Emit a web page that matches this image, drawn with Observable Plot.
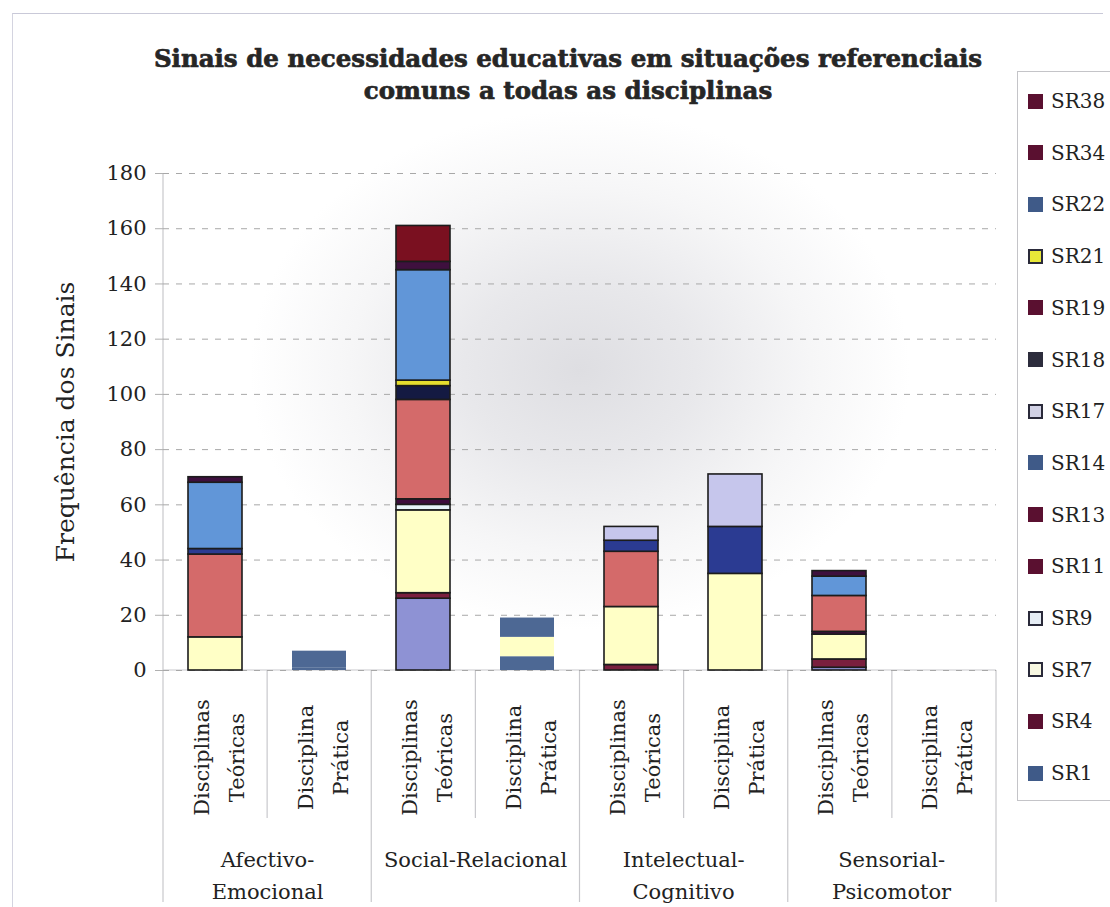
<!DOCTYPE html>
<html>
<head>
<meta charset="utf-8">
<script src="https://cdn.jsdelivr.net/npm/d3@7"></script>
<script src="https://cdn.jsdelivr.net/npm/@observablehq/plot@0.6"></script>
<style>
  html, body { margin: 0; padding: 0; background: #fff; }
  #wrap {
    position: relative; width: 1110px; height: 907px; overflow: hidden;
    background: radial-gradient(ellipse 330px 260px at 580px 370px, #dedee2 0%, #e8e8eb 35%, #f6f6f7 70%, #ffffff 100%);
  }
  #frame { position: absolute; left: 12px; top: 13px; width: 1090px; height: 900px;
    border-top: 1.5px solid #c9c9d8; border-left: 1.5px solid #d4d4e0; }
  #legend { position: absolute; left: 1017px; top: 71px; width: 110px; height: 728px;
    border: 1px solid #c4c4c8; background: rgba(255,255,255,0.9); font-family: "DejaVu Serif", serif; }
  .item { position: absolute; left: 10px; height: 24px; display: flex; align-items: center; }
  .sw { width: 15px; height: 15px; box-sizing: border-box; margin-right: 8px; }
  .lab { font-size: 20px; color: #222; }
  svg { position: absolute; left: 0; top: 0; }
</style>
</head>
<body>
<div id="wrap"><div id="frame"></div></div>
<script>
// ---- data ----
const grupos = ["Afectivo-Emocional", "Social-Relacional", "Intelectual-Cognitivo", "Sensorial-Psicomotor"];
const grupoRotulos = ["Afectivo-\nEmocional", "Social-Relacional", "Intelectual-\nCognitivo", "Sensorial-\nPsicomotor"];
const tipos = ["Teóricas", "Prática"];
const tipoRotulos = ["Disciplinas\nTeóricas", "Disciplina\nPrática"];
const series = ["SR1", "SR4", "SR7", "SR9", "SR11", "SR13", "SR14", "SR17", "SR18", "SR19", "SR21", "SR22", "SR34", "SR38"];
// bars: AE-Teó, AE-Prá, SR-Teó, SR-Prá, IC-Teó, IC-Prá, SP-Teó, SP-Prá
const SR1  = [0, 1, 26, 5, 0, 0, 1, 0];
const SR4  = [0, 0, 2, 0, 2, 0, 3, 0];
const SR7  = [12, 0, 30, 7, 21, 35, 9, 0];
const SR9  = [0, 0, 2, 0, 0, 0, 0, 0];
const SR11 = [0, 0, 2, 0, 0, 0, 1, 0];
const SR13 = [30, 0, 36, 0, 20, 0, 13, 0];
const SR14 = [2, 0, 0, 0, 4, 17, 0, 0];
const SR17 = [0, 0, 0, 0, 5, 19, 0, 0];
const SR18 = [0, 0, 5, 0, 0, 0, 0, 0];
const SR19 = [0, 0, 0, 0, 0, 0, 0, 0];
const SR21 = [0, 0, 2, 0, 0, 0, 0, 0];
const SR22 = [24, 6, 40, 7, 0, 0, 7, 0];
const SR34 = [2, 0, 3, 0, 0, 0, 2, 0];
const SR38 = [0, 0, 13, 0, 0, 0, 0, 0];
const yTicks = [0, 20, 40, 60, 80, 100, 120, 140, 160, 180];
const titulo = "Sinais de necessidades educativas em situações referenciais\ncomuns a todas as disciplinas";
const yTitulo = "Frequência dos Sinais";

const valores = {SR1, SR4, SR7, SR9, SR11, SR13, SR14, SR17, SR18, SR19, SR21, SR22, SR34, SR38};

// ---- styles ----
const corBarra = {
  SR1: "#8e92d4", SR4: "#7a1f3e", SR7: "#ffffc6", SR9: "#e6f2f8", SR11: "#3c0c3c",
  SR13: "#d46a6a", SR14: "#2b3b92", SR17: "#c6c6ec", SR18: "#141a42", SR19: "#5a1030",
  SR21: "#e6de2e", SR22: "#6196d8", SR34: "#3e103e", SR38: "#7a1020"
};
const ardosia = "#4d6894";
const corLegenda = {
  SR38: "#5a1030", SR34: "#5a1030", SR22: "#3f5a88", SR21: "#e8e838", SR19: "#5a1030",
  SR18: "#2c2c3c", SR17: "#d2d2e6", SR14: "#3f5a88", SR13: "#5a1030", SR11: "#5a1030",
  SR9: "#e6edf5", SR7: "#f8f8e2", SR4: "#5a1030", SR1: "#3f5a88"
};
const comBorda = new Set(["SR21", "SR17", "SR9", "SR7"]);

const cats = [];
grupos.forEach(g => tipos.forEach(t => cats.push(g + "|" + t)));

const rows = [];
series.forEach(s => {
  valores[s].forEach((v, j) => {
    if (v > 0) rows.push({serie: s, j, grupo: grupos[Math.floor(j / 2)], tipo: tipos[j % 2], cat: cats[j], valor: v});
  });
});

const estiloArdosia = d => d.tipo === "Prática" && (SR1[d.j] > 0 || SR22[d.j] > 0);
const fillOf = d => (estiloArdosia(d) && (d.serie === "SR1" || d.serie === "SR22")) ? ardosia : corBarra[d.serie];
const strokeOf = d => estiloArdosia(d) ? "none" : "#1c1c1c";

const W = 1110, H = 907, mL = 163, mR = 114, mT = 173, mB = 237;
const step = (W - mL - mR) / cats.length;
const serif = "DejaVu Serif";

const plot = Plot.plot({
  width: W, height: H,
  marginLeft: mL, marginRight: mR, marginTop: mT, marginBottom: mB,
  style: {background: "transparent", fontFamily: serif, color: "#222"},
  x: {domain: cats, paddingInner: 0.48, paddingOuter: 0.24, axis: null},
  y: {domain: [0, 180], axis: null},
  color: {type: "identity"},
  marks: [
    Plot.gridY(yTicks, {stroke: "#a8a8a8", strokeOpacity: 1, strokeDasharray: "6,7", strokeWidth: 1}),
    Plot.axisY({ticks: yTicks, tickSize: 8, tickPadding: 9, fontSize: 21, fontFamily: serif, label: null, stroke: "#b0b0b0", fill: "#222"}),
    Plot.barY(rows, Plot.stackY({x: "cat", y: "valor", z: "serie", fill: fillOf, stroke: strokeOf, strokeWidth: 1.6})),
    Plot.text([yTitulo], {frameAnchor: "left", dx: -98, rotate: -90, textAnchor: "middle", fontSize: 25, fontFamily: serif, fill: "#222", text: d => d}),
    Plot.text([titulo], {frameAnchor: "top", dx: -12, dy: -101, lineAnchor: "middle", lineHeight: 1.33, fontSize: 24.5, fontWeight: "bold", fontFamily: serif, fill: "#262626", stroke: "#262626", strokeWidth: 0.7, text: d => d}),
    Plot.text(cats, {x: d => d, frameAnchor: "bottom", dy: 87, rotate: -90, textAnchor: "middle", lineAnchor: "middle", lineHeight: 1.67, fontSize: 21, fontFamily: serif, fill: "#222", text: d => tipoRotulos[tipos.indexOf(d.split("|")[1])]}),
    Plot.text(grupos, {x: d => d + "|Teóricas", dx: step / 2, frameAnchor: "bottom", dy: 174, lineAnchor: "top", lineHeight: 1.52, fontSize: 21, fontFamily: serif, fill: "#222", text: (d, i) => grupoRotulos[i]})
  ]
});

// structural table lines through the library scales
const sx = plot.scale("x"), sy = plot.scale("y");
const svg = d3.select(plot);
const r0 = sx.range[0];
const y0 = sy.apply(0), yTop = sy.apply(180);
const g = svg.insert("g", ":first-child").attr("stroke", "#c8c8cc").attr("stroke-width", 1.2);
g.append("line").attr("x1", r0).attr("x2", r0 + step * cats.length).attr("y1", y0).attr("y2", y0);
for (let i = 0; i <= cats.length; i++) {
  const x = r0 + i * step;
  g.append("line").attr("x1", x).attr("x2", x)
    .attr("y1", i === 0 ? yTop : y0)
    .attr("y2", i % 2 === 0 ? 902 : 818);
}

document.getElementById("wrap").appendChild(plot);

// legend
const leg = document.createElement("div");
leg.id = "legend";
[...series].reverse().forEach((s, i) => {
  const it = document.createElement("div");
  it.className = "item";
  it.style.top = (17 + i * 51.7) + "px";
  const sw = document.createElement("div");
  sw.className = "sw";
  sw.style.background = corLegenda[s];
  if (comBorda.has(s)) sw.style.border = "2px solid #2a2a3a";
  const lab = document.createElement("span");
  lab.className = "lab";
  lab.textContent = s;
  it.appendChild(sw); it.appendChild(lab);
  leg.appendChild(it);
});
document.getElementById("wrap").appendChild(leg);
</script>
</body>
</html>
